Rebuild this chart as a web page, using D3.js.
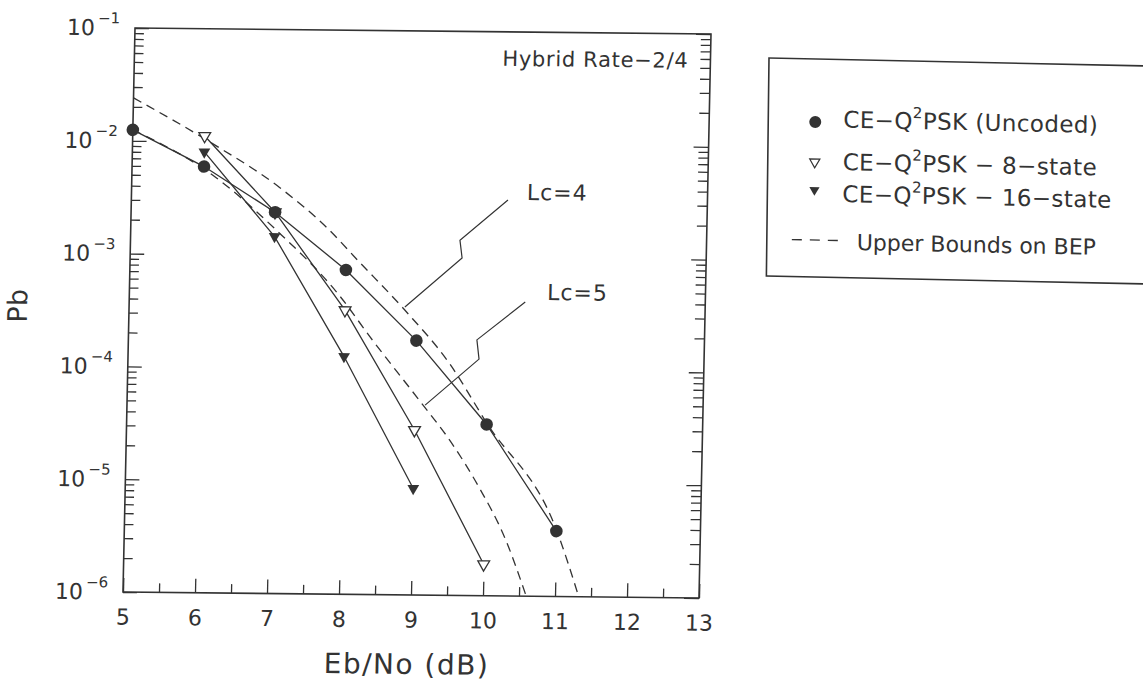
<!DOCTYPE html>
<html><head><meta charset="utf-8">
<script src="https://cdn.jsdelivr.net/npm/d3@7"></script>
<style>
body{margin:0;background:#fff;}
svg{display:block;font-family:"DejaVu Sans",sans-serif;}
</style></head><body>
<svg id="chart" width="1143" height="692"></svg>
<script>
// ---- data ----
const uncodedX = [5, 6, 7, 8, 9, 10, 11];
const uncodedPb = [1.25e-2, 6.0e-3, 2.4e-3, 7.5e-4, 1.8e-4, 3.3e-5, 3.8e-6];
const state8X = [6, 7, 8, 9, 10];
const state8Pb = [1.12e-2, 2.4e-3, 3.3e-4, 2.9e-5, 1.9e-6];
const state16X = [6, 7, 8, 9];
const state16Pb = [8.1e-3, 1.46e-3, 1.28e-4, 8.8e-6];
const boundLc4X = [5, 6.1, 7.05, 7.72, 8.18, 8.82, 9.46, 10, 11, 11.33];
const boundLc4Pb = [2.4e-2, 9.7e-3, 4.0e-3, 1.78e-3, 8.9e-4, 3.4e-4, 1.15e-4, 3.4e-5, 3.9e-6, 1.0e-6];
const boundLc5X = [5, 6.12, 7.02, 7.91, 8.39, 9.05, 9.52, 9.91, 10.30, 10.60];
const boundLc5Pb = [1.25e-2, 5.06e-3, 1.67e-3, 4.5e-4, 1.8e-4, 5.4e-5, 2.24e-5, 9.2e-6, 3.13e-6, 1.0e-6];
const xTicks = [5, 6, 7, 8, 9, 10, 11, 12, 13];
const xMinorTicks = [5.5, 6.5, 7.5, 8.5, 9.5, 10.5, 11.5, 12.5];
const yExponents = [-1, -2, -3, -4, -5, -6];
const lc4Arrow = [[10.23, 3.24e-3], [9.575, 1.41e-3], [9.61, 9.8e-4], [8.83, 3.56e-4]];
const lc5Arrow = [[10.50, 4.05e-4], [9.84, 1.85e-4], [9.875, 1.25e-4], [9.14, 4.83e-5]];
const lc4Label = {text: "Lc=4", x: 10.49, y: 3.25e-3};
const lc5Label = {text: "Lc=5", x: 10.80, y: 4.24e-4};
const titleText = "Hybrid Rate\u22122/4";
const legendRows = [
  {pre: "CE\u2212Q", sup: "2", post: "PSK (Uncoded)", marker: "circle"},
  {pre: "CE\u2212Q", sup: "2", post: "PSK \u2212 8\u2212state", marker: "open"},
  {pre: "CE\u2212Q", sup: "2", post: "PSK \u2212 16\u2212state", marker: "filled"}
];
const legendBoundText = "Upper Bounds on BEP";
const xTitle = "Eb/No (dB)";
const yTitle = "Pb";

// ---- layout ----
const INK = "#333";
const W = 576, H = 564;
const svg = d3.select("#chart");
const g = svg.append("g").attr("transform", "matrix(1,0.0104,-0.0213,1,135,28)");
const x = d3.scaleLinear().domain([5, 13]).range([0, W]);
const y = d3.scaleLog().domain([1e-6, 1e-1]).range([H, 0]);

const majors = yExponents.map(e => Math.pow(10, e));
const minors = [];
for (let e = -6; e <= -2; e++) for (let m = 2; m <= 9; m++) minors.push(m * Math.pow(10, e));

g.append("defs").append("clipPath").attr("id", "plotclip")
  .append("rect").attr("x", 0).attr("y", 0).attr("width", W).attr("height", H);

function styleAxis(sel) {
  sel.select(".domain").remove();
  sel.selectAll(".tick line").attr("stroke", INK).attr("stroke-width", 1.3);
  sel.selectAll(".tick text").attr("fill", INK);
}

// x axis
g.append("g").attr("transform", `translate(0,${H})`)
  .call(d3.axisBottom(x).tickValues(xTicks).tickSizeInner(-14).tickSizeOuter(0).tickPadding(17).tickFormat(d3.format("d")))
  .call(styleAxis)
  .call(s => s.selectAll(".tick text").attr("font-size", 22).attr("font-family", "DejaVu Sans"));
g.append("g").attr("transform", `translate(0,${H})`)
  .call(d3.axisBottom(x).tickValues(xMinorTicks).tickSizeInner(-9).tickSizeOuter(0).tickFormat(""))
  .call(styleAxis);

// y axis left
const yAx = g.append("g")
  .call(d3.axisLeft(y).tickValues(majors).tickSizeInner(-14).tickSizeOuter(0).tickPadding(15).tickFormat(() => ""))
  .call(styleAxis);
yAx.selectAll(".tick text").each(function(d) {
  const t = d3.select(this).attr("font-size", 22).attr("font-family", "DejaVu Sans").attr("dy", "0.32em");
  const e = Math.round(Math.log10(d));
  t.text(null);
  t.append("tspan").text("10");
  t.append("tspan").attr("font-size", 15).attr("dy", -12).attr("dx", 3).text("\u2212" + Math.abs(e));
});
g.append("g")
  .call(d3.axisLeft(y).tickValues(minors).tickSizeInner(-9).tickSizeOuter(0).tickFormat(""))
  .call(styleAxis);
// y axis right
g.append("g").attr("transform", `translate(${W},0)`)
  .call(d3.axisRight(y).tickValues(majors).tickSizeInner(-15).tickSizeOuter(0).tickFormat(""))
  .call(styleAxis);
g.append("g").attr("transform", `translate(${W},0)`)
  .call(d3.axisRight(y).tickValues(minors).tickSizeInner(-10).tickSizeOuter(0).tickFormat(""))
  .call(styleAxis);

// frame
g.append("rect").attr("x", 0).attr("y", 0).attr("width", W).attr("height", H)
  .attr("fill", "none").attr("stroke", INK).attr("stroke-width", 1.6);

// curves
const zip = (xs, ys) => xs.map((v, i) => [v, ys[i]]);
const lineGen = d3.line().x(d => x(d[0])).y(d => y(d[1]));
const curveGen = d3.line().x(d => x(d[0])).y(d => y(d[1])).curve(d3.curveMonotoneX);
const plot = g.append("g").attr("clip-path", "url(#plotclip)");

[[boundLc4X, boundLc4Pb], [boundLc5X, boundLc5Pb]].forEach(([xs, ys]) => {
  plot.append("path").attr("d", curveGen(zip(xs, ys)))
    .attr("fill", "none").attr("stroke", INK).attr("stroke-width", 1.3).attr("stroke-dasharray", "9,6");
});
[[uncodedX, uncodedPb], [state8X, state8Pb], [state16X, state16Pb]].forEach(([xs, ys]) => {
  plot.append("path").attr("d", lineGen(zip(xs, ys)))
    .attr("fill", "none").attr("stroke", INK).attr("stroke-width", 1.3);
});

// annotations
[lc4Arrow, lc5Arrow].forEach(pts => {
  g.append("path").attr("d", lineGen(pts)).attr("fill", "none").attr("stroke", INK).attr("stroke-width", 1.2);
});
[lc4Label, lc5Label].forEach(l => {
  g.append("text").attr("x", x(l.x)).attr("y", y(l.y)).attr("font-size", 22).attr("letter-spacing", 1)
    .attr("fill", INK).text(l.text);
});
g.append("text").attr("x", W - 22).attr("y", 34).attr("text-anchor", "end")
  .attr("font-size", 21).attr("letter-spacing", 0.7).attr("fill", INK).text(titleText);

// markers
const triSym = d3.symbol().type(d3.symbolTriangle).size(60);
g.append("g").selectAll("path").data(zip(state8X, state8Pb)).join("path")
  .attr("d", triSym).attr("transform", d => `translate(${x(d[0])},${y(d[1])}) rotate(180)`)
  .attr("fill", "#fff").attr("stroke", INK).attr("stroke-width", 1.3);
g.append("g").selectAll("circle").data(zip(uncodedX, uncodedPb)).join("circle")
  .attr("cx", d => x(d[0])).attr("cy", d => y(d[1])).attr("r", 6.3).attr("fill", INK);
g.append("g").selectAll("path").data(zip(state16X, state16Pb)).join("path")
  .attr("d", triSym).attr("transform", d => `translate(${x(d[0])},${y(d[1])}) rotate(180)`)
  .attr("fill", INK);

// axis titles
g.append("text").attr("x", 285).attr("y", 643).attr("text-anchor", "middle")
  .attr("font-size", 28).attr("fill", INK).attr("letter-spacing", 1.5).text(xTitle);
g.append("text").attr("transform", "translate(-102,279) rotate(-90)").attr("text-anchor", "middle")
  .attr("font-size", 27).attr("fill", INK).text(yTitle);

// legend
const lg = svg.append("g").attr("transform", "matrix(1,0.021,-0.012,1,769,58)");
lg.append("rect").attr("x", 0).attr("y", 0).attr("width", 420).attr("height", 218)
  .attr("fill", "#fff").attr("stroke", INK).attr("stroke-width", 1.6);
const rowY = [68, 110.5, 142.5];
const markY = [63, 103, 131];
legendRows.forEach((r, i) => {
  if (r.marker === "circle") {
    lg.append("circle").attr("cx", 47).attr("cy", markY[i]).attr("r", 6).attr("fill", INK);
  } else {
    lg.append("path").attr("d", d3.symbol().type(d3.symbolTriangle).size(45))
      .attr("transform", `translate(47,${markY[i]}) rotate(180)`)
      .attr("fill", r.marker === "open" ? "#fff" : INK).attr("stroke", INK).attr("stroke-width", r.marker === "open" ? 1.2 : 0);
  }
  const t = lg.append("text").attr("x", 75).attr("y", rowY[i]).attr("font-size", 23).attr("letter-spacing", 0.4).attr("fill", INK);
  t.append("tspan").text(r.pre);
  t.append("tspan").attr("font-size", 15).attr("dy", -11).text(r.sup);
  t.append("tspan").attr("dy", 11).text(r.post);
});
lg.append("line").attr("x1", 25).attr("x2", 71).attr("y1", 181).attr("y2", 181)
  .attr("stroke", INK).attr("stroke-width", 1.3).attr("stroke-dasharray", "10,8");
lg.append("text").attr("x", 90).attr("y", 190).attr("font-size", 22).attr("fill", INK).text(legendBoundText);
</script>
</body></html>
